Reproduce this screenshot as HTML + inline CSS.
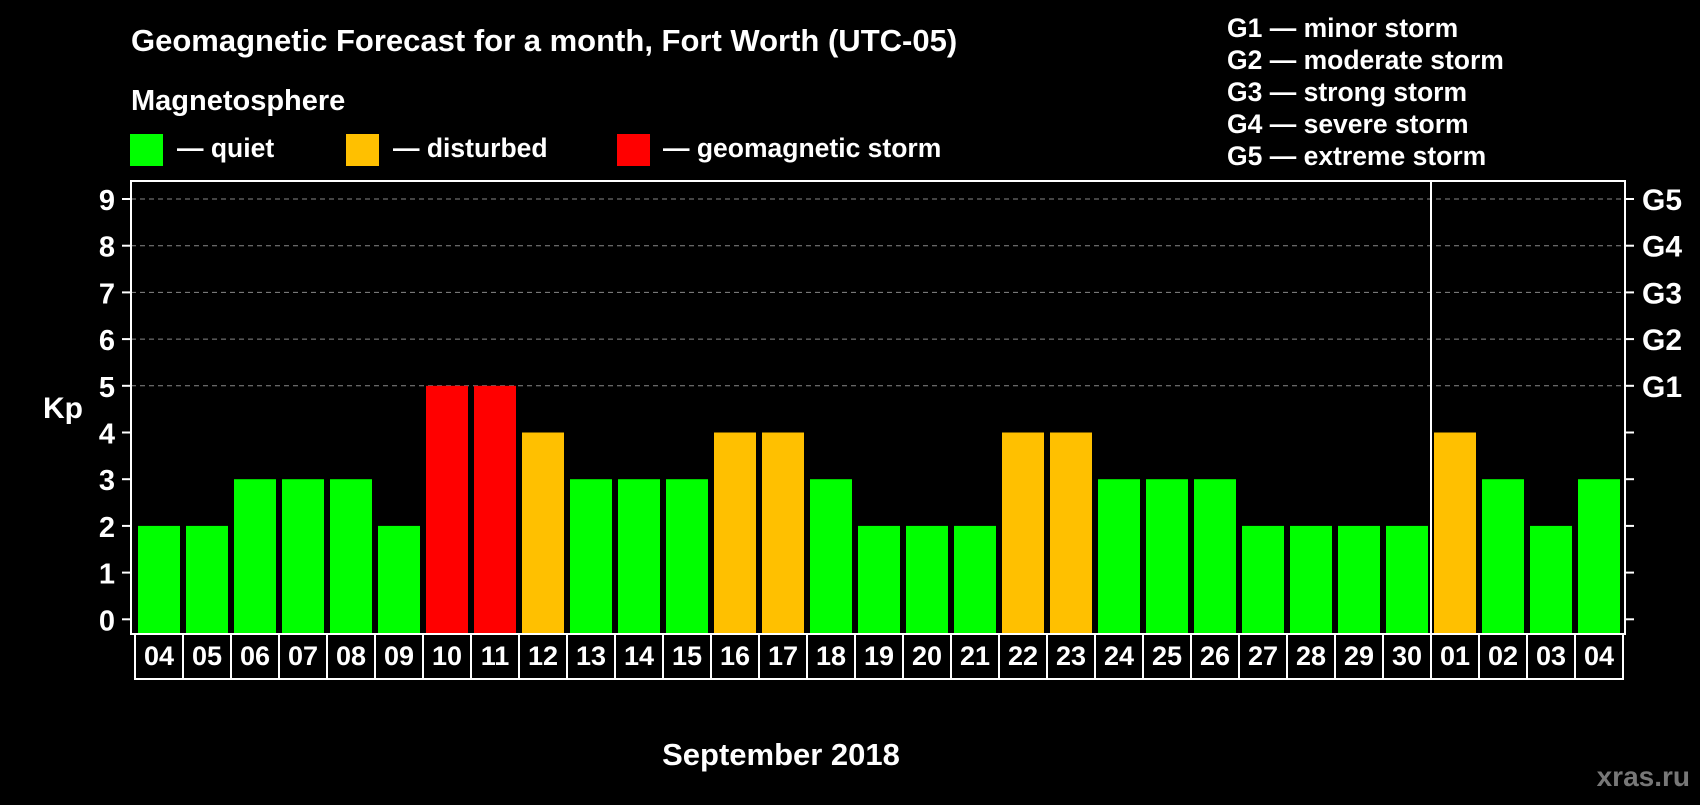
<!DOCTYPE html>
<html><head><meta charset="utf-8"><style>
html,body{margin:0;padding:0;background:#000;}
svg text{font-family:"Liberation Sans",Arial,sans-serif;font-weight:bold;fill:#fff;}
</style></head><body>
<svg id="chart" width="1700" height="800" viewBox="0 0 1700 800">
<rect width="1700" height="800" fill="#000"/>
<text x="131" y="51" font-size="31">Geomagnetic Forecast for a month, Fort Worth (UTC-05)</text>
<text x="131" y="110" font-size="29">Magnetosphere</text>
<g><rect x="130" y="134" width="33" height="32" fill="#00ff00"/><text x="177" y="157" font-size="26.5">— quiet</text></g>
<g><rect x="346" y="134" width="33" height="32" fill="#ffc000"/><text x="393" y="157" font-size="26.5">— disturbed</text></g>
<g><rect x="617" y="134" width="33" height="32" fill="#ff0000"/><text x="663" y="157" font-size="26.5">— geomagnetic storm</text></g>
<g font-size="26.5">
<text x="1227" y="37">G1 — minor storm</text>
<text x="1227" y="69">G2 — moderate storm</text>
<text x="1227" y="101">G3 — strong storm</text>
<text x="1227" y="133">G4 — severe storm</text>
<text x="1227" y="165">G5 — extreme storm</text>
</g>
<text x="63" y="418" font-size="30" text-anchor="middle">Kp</text>
<text x="781" y="765" font-size="31" text-anchor="middle">September 2018</text>
<text x="1690" y="786" font-size="28" text-anchor="end" style="fill:#777">xras.ru</text>
<g id="grid"></g><g id="bars"></g><g id="axes"></g>
</svg>
<script>
const days=["04","05","06","07","08","09","10","11","12","13","14","15","16","17","18","19","20","21","22","23","24","25","26","27","28","29","30","01","02","03","04"];
const kp=[2,2,3,3,3,2,5,5,4,3,3,3,4,4,3,2,2,2,4,4,3,3,3,2,2,2,2,4,3,2,3];
const yTicks=[0,1,2,3,4,5,6,7,8,9];
const gLabels=["G1","G2","G3","G4","G5"];
const NS="http://www.w3.org/2000/svg";
const L=131,R=1625,T=181,B=634,x0=135,step=48;
const y=v=>619.3-v*46.7;
const xs=i=>x0+i*step;
function mk(tag,attrs,parent){const e=document.createElementNS(NS,tag);for(const k in attrs)e.setAttribute(k,attrs[k]);parent.appendChild(e);return e;}
const grid=document.getElementById('grid'),bars=document.getElementById('bars'),axes=document.getElementById('axes');
yTicks.forEach(v=>{
 if(v>=5){const g=mk('line',{x1:L,x2:R,y1:y(v),y2:y(v),stroke:'#888','stroke-dasharray':'5,4','stroke-width':1},grid);
 
 }
 const t1=mk('line',{x1:122,x2:L,y1:y(v),y2:y(v),stroke:'#fff','stroke-width':2},axes);
 
 
 const t2=mk('line',{x1:R,x2:R+9,y1:y(v),y2:y(v),stroke:'#fff','stroke-width':2},axes);
 
 
 const lb=mk('text',{x:115,y:y(v)+11,'font-size':29,'text-anchor':'end'},axes);lb.textContent=v;
 
 
});
gLabels.forEach((g,i)=>{const t=mk('text',{x:1642,y:y(5+i)+11,'font-size':30},axes);t.textContent=g;
 
 });
kp.forEach((v,i)=>{
 const c=v>=5?'#ff0000':(v>=4?'#ffc000':'#00ff00');
 const r=mk('rect',{x:xs(i)+3,y:y(v),width:42,height:B-y(v),fill:c},bars);
 
 
 const b=mk('rect',{x:xs(i),y:B,width:step,height:45,fill:'none',stroke:'#fff','stroke-width':2},axes);
 
 
 const t=mk('text',{x:xs(i)+step/2,y:B+31,'font-size':27,'text-anchor':'middle'},axes);t.textContent=days[i];
 
 
});
const f=mk('rect',{x:L,y:T,width:R-L,height:B-T,fill:'none',stroke:'#fff','stroke-width':2},axes);


const mi=days.indexOf("01");
const d=mk('line',{x1:xs(mi),x2:xs(mi),y1:T,y2:B+45,stroke:'#fff','stroke-width':2},axes);


</script>
</body></html>
